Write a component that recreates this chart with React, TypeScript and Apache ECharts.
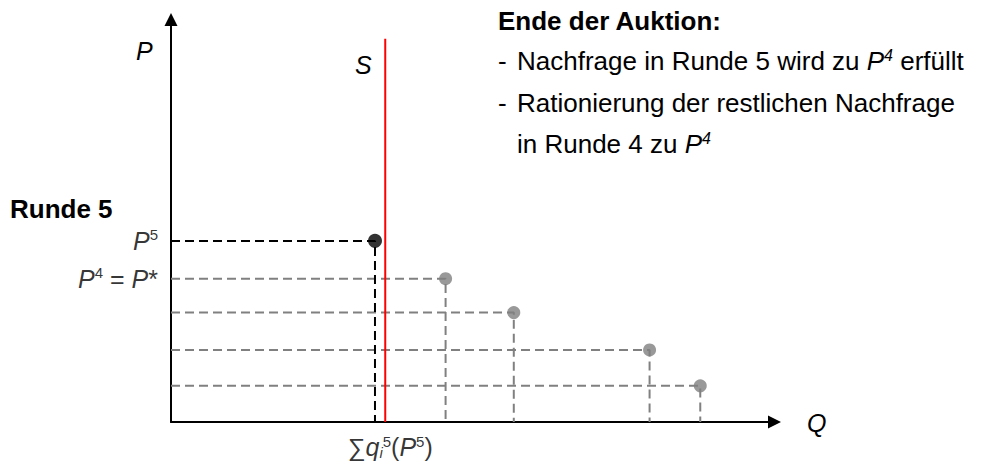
import React, { useEffect, useRef } from "react";
import * as echarts from "echarts";

// Remaining demand quantities and the price levels of the earlier rounds
const demandQ = [45.5, 56.8, 79.3, 87.7];
const demandP = [35.6, 27.2, 17.9, 9.0];
// Round 5: aggregate demand at price P5
const round5Q = 33.8;
const round5P = 45.0;
// Fixed supply
const supplyQ = 35.5;
const supplyTop = 95.2;

const priceLabels = ["{i|P}{s|5}", "{i|P}{s|4}{n| = }{i|P}{n|*}"];
const quantityLabel = "{n|∑}{i|q}{sub|i}{s|5}{n|(}{i|P}{s|5}{n|)}";

const FONT = "'Liberation Sans', Arial, Helvetica, sans-serif";
const GRAY = "#808080";

const mathRich = {
  n: { fontFamily: FONT, fontSize: 25, color: "#000", lineHeight: 30 },
  i: { fontFamily: FONT, fontSize: 25, fontStyle: "italic", color: "#000", lineHeight: 30 },
  s: { fontFamily: FONT, fontSize: 15, color: "#000", lineHeight: 16, padding: [0, 0, 12, 0] },
  sub: { fontFamily: FONT, fontSize: 15, fontStyle: "italic", color: "#000", lineHeight: 16, padding: [11, 0, 0, 0] },
};

const bodyRich = {
  d: { fontFamily: FONT, fontSize: 26, color: "#000", width: 19, lineHeight: 30 },
  t: { fontFamily: FONT, fontSize: 26, color: "#000", lineHeight: 30 },
  i: { fontFamily: FONT, fontSize: 26, fontStyle: "italic", color: "#000", lineHeight: 30 },
  s: { fontFamily: FONT, fontSize: 16, fontStyle: "italic", color: "#000", lineHeight: 16, padding: [0, 0, 12, 0] },
};

const boldRich = {
  b: { fontFamily: FONT, fontSize: 26, fontWeight: "bold", color: "#000", lineHeight: 30 },
};

function textTitle(text: string, left: number, top: number, rich: any) {
  return {
    text,
    left,
    top,
    padding: 0,
    textStyle: { fontFamily: FONT, color: "#000", fontWeight: "normal", fontSize: 26, lineHeight: 30, rich },
  };
}

const axisCommon = {
  type: "value",
  min: 0,
  max: 100,
  axisLine: {
    show: true,
    onZero: false,
    symbol: ["none", "triangle"],
    symbolSize: [13, 13],
    lineStyle: { color: "#000", width: 2 },
  },
  axisTick: { show: false },
  axisLabel: { show: false },
  splitLine: { show: false },
};

export default function App() {
  const ref = useRef<HTMLDivElement>(null);

  useEffect(() => {
    if (!ref.current) return;
    const chart = echarts.init(ref.current, null, { renderer: "svg" });

    // Each earlier round: dashed guide from the price axis to the demand point, then down to Q
    const demandSeries = demandQ.map((q, k) => ({
      type: "line",
      data: [
        [0, demandP[k]],
        [q, demandP[k]],
        [q, 0],
      ],
      symbol: "none",
      silent: true,
      z: 2,
      lineStyle: { color: GRAY, width: 2, type: [9, 5] },
    }));

    const option: any = {
      animation: false,
      backgroundColor: "#fff",
      grid: { left: 171, right: 209.5, top: 19.5, bottom: 44, containLabel: false },
      xAxis: { ...axisCommon },
      yAxis: { ...axisCommon },
      title: [
        textTitle("{b|Ende der Auktion:}", 498, 6, boldRich),
        textTitle("{d|-}{t|Nachfrage in Runde 5 wird zu }{i|P}{s|4}{t| erfüllt}", 498, 46, bodyRich),
        textTitle("{d|-}{t|Rationierung der restlichen Nachfrage}", 498, 88, bodyRich),
        textTitle("{t|in Runde 4 zu }{i|P}{s|4}", 517, 129, bodyRich),
        textTitle("{b|Runde 5}", 10, 194, boldRich),
        textTitle("{i|P}", 136, 36, mathRich),
        textTitle("{i|S}", 355, 50, mathRich),
        textTitle("{i|Q}", 807, 408, mathRich),
      ],
      series: [
        ...demandSeries,
        {
          type: "line",
          data: [
            [0, round5P],
            [round5Q, round5P],
            [round5Q, 0],
          ],
          symbol: "none",
          silent: true,
          z: 3,
          lineStyle: { color: "#000", width: 2, type: [9, 5] },
        },
        {
          type: "line",
          data: [
            [supplyQ, 0],
            [supplyQ, supplyTop],
          ],
          symbol: "none",
          silent: true,
          z: 4,
          lineStyle: { color: "#ff0000", width: 2 },
        },
        {
          type: "scatter",
          data: demandQ.map((q, k) => [q, demandP[k]]),
          symbol: "circle",
          symbolSize: 13,
          z: 5,
          itemStyle: { color: GRAY },
        },
        {
          type: "scatter",
          data: [[round5Q, round5P]],
          symbol: "circle",
          symbolSize: 14,
          z: 6,
          itemStyle: { color: "#000" },
        },
        {
          type: "scatter",
          symbolSize: 0,
          silent: true,
          z: 6,
          data: [
            { value: [0, round5P], label: { formatter: priceLabels[0] } },
            { value: [0, demandP[0]], label: { formatter: priceLabels[1] } },
          ],
          label: { show: true, position: "left", distance: 13, rich: mathRich },
        },
        {
          type: "scatter",
          symbolSize: 0,
          silent: true,
          z: 6,
          data: [{ value: [supplyQ, 0], label: { formatter: quantityLabel } }],
          label: { show: true, position: "bottom", distance: 10, offset: [5, 0], rich: mathRich },
        },
      ],
    };

    chart.setOption(option);
    return () => chart.dispose();
  }, []);

  return (
    <div
      ref={ref}
      style={{ position: "fixed", left: 0, top: 0, width: 984, height: 466, background: "#fff" }}
    />
  );
}
